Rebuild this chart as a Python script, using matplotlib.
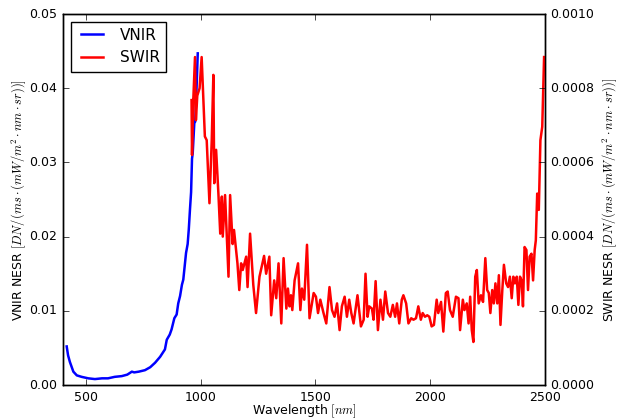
import numpy as np
import matplotlib
matplotlib.use("Agg")
import matplotlib.pyplot as plt
from matplotlib.ticker import FormatStrFormatter

# VNIR NESR (left axis)
vnir_wl = [416, 422, 430, 445, 460, 481, 510, 539, 570, 596, 625, 656, 680, 700,
           710, 730, 757, 780, 801, 823, 844, 852, 865, 873, 885, 895, 902, 910,
           918, 924, 930, 936, 943, 948, 953, 958, 962, 965, 972, 976, 980, 987]
vnir_nesr = [0.0052, 0.0040, 0.0031, 0.0018, 0.0013, 0.0011, 0.0009, 0.0008,
             0.0009, 0.0009, 0.0011, 0.0012, 0.0014, 0.0018, 0.0017, 0.0018,
             0.0020, 0.0024, 0.0030, 0.0038, 0.0048, 0.0061, 0.0068, 0.0075,
             0.0090, 0.0095, 0.0110, 0.0120, 0.0135, 0.0142, 0.0160, 0.0178,
             0.0190, 0.0210, 0.0236, 0.0260, 0.0305, 0.0312, 0.0353, 0.0355,
             0.0384, 0.0447]

# SWIR NESR (right axis, in units of 1e-4)
swir_wl = [960, 962, 967, 975, 979, 985, 995, 1004, 1012, 1018, 1026, 1038, 1048,
           1055, 1059, 1067, 1077, 1085, 1092, 1096, 1106, 1121, 1128, 1139, 1145,
           1160, 1168, 1176, 1183, 1198, 1204, 1215, 1229, 1241, 1256, 1276, 1285,
           1299, 1307, 1320, 1329, 1339, 1351, 1361, 1373, 1380, 1387, 1393, 1399,
           1409, 1424, 1434, 1441, 1451, 1463, 1474, 1492, 1502, 1511, 1521, 1535,
           1547, 1561, 1572, 1583, 1594, 1605, 1615, 1627, 1637, 1647, 1656, 1666,
           1683, 1698, 1710, 1718, 1727, 1734, 1746, 1753, 1762, 1772, 1783, 1794,
           1804, 1816, 1826, 1837, 1847, 1855, 1865, 1876, 1883, 1895, 1905, 1917,
           1927, 1938, 1948, 1959, 1967, 1977, 1987, 1996, 2006, 2016, 2028, 2035,
           2047, 2057, 2068, 2076, 2086, 2098, 2112, 2123, 2130, 2142, 2149, 2159,
           2167, 2174, 2181, 2188, 2196, 2203, 2211, 2221, 2230, 2240, 2248, 2255,
           2262, 2270, 2277, 2284, 2292, 2299, 2306, 2314, 2321, 2331, 2339, 2347,
           2355, 2362, 2369, 2377, 2384, 2391, 2398, 2404, 2411, 2419, 2426, 2433,
           2441, 2448, 2455, 2460, 2466, 2473, 2480, 2488, 2492, 2496]
swir_nesr_e4 = [7.68, 6.2, 7.6, 8.84, 7.14, 7.8, 8.0, 8.84, 7.6, 6.7, 6.6, 4.9, 6.6,
                8.36, 5.44, 6.34, 5.16, 4.08, 5.08, 4.0, 5.12, 2.92, 5.12, 3.8, 4.18,
                3.28, 2.56, 3.28, 3.1, 3.46, 2.64, 4.08, 2.7, 1.94, 2.92, 3.48, 3.0,
                3.46, 1.88, 2.82, 2.34, 3.28, 1.66, 3.42, 2.06, 2.6, 2.12, 2.42, 2.02,
                2.82, 3.28, 2.02, 2.6, 2.3, 3.78, 1.8, 2.48, 2.38, 1.94, 2.3, 1.94,
                1.66, 2.64, 2.02, 1.84, 2.2, 1.48, 2.12, 2.38, 1.84, 2.3, 1.94, 1.66,
                2.42, 1.58, 1.76, 3.0, 1.84, 2.12, 2.06, 1.76, 2.8, 1.48, 2.3, 1.76,
                2.52, 1.94, 1.84, 2.16, 1.84, 2.2, 1.66, 2.3, 2.42, 2.2, 1.66, 1.8,
                1.76, 1.8, 2.12, 1.76, 1.94, 1.84, 1.88, 1.84, 1.58, 1.62, 2.3, 1.94,
                2.24, 1.44, 2.48, 2.52, 2.02, 1.84, 2.38, 2.34, 1.48, 2.3, 2.02, 2.2,
                1.66, 2.38, 1.48, 1.16, 2.92, 3.1, 2.2, 2.42, 2.24, 3.42, 2.56, 2.48,
                1.94, 2.56, 2.2, 2.74, 2.2, 2.96, 1.62, 2.56, 3.24, 2.74, 2.64, 2.92,
                2.34, 2.92, 2.74, 2.92, 2.16, 2.92, 2.82, 2.12, 3.72, 3.64, 2.56, 3.46,
                3.54, 2.82, 3.64, 3.9, 5.16, 4.72, 6.6, 6.96, 7.86, 8.84]
swir_nesr = np.array(swir_nesr_e4) * 1e-4

plt.style.use('classic')
plt.rcParams['font.size'] = 9

fig = plt.figure(figsize=(6.24, 4.2), dpi=100, facecolor='white')
ax = fig.add_axes([0.101, 0.0833, 0.7724, 0.8833])
ax2 = ax.twinx()

l1, = ax.plot(vnir_wl, vnir_nesr, color='blue', lw=1.8, label='VNIR')
l2, = ax2.plot(swir_wl, swir_nesr, color='red', lw=1.8, label='SWIR')

ax.set_xlim(400, 2500)
ax.set_ylim(0, 0.05)
ax2.set_ylim(0, 0.001)
ax.set_xticks([500, 1000, 1500, 2000, 2500])
ax.yaxis.set_major_formatter(FormatStrFormatter('%.2f'))
ax2.yaxis.set_major_formatter(FormatStrFormatter('%.4f'))

ax.set_xlabel(r'Wavelength $[nm]$', labelpad=-1)
ax.set_ylabel(r'VNIR NESR $[DN/(ms\cdot(mW/m^2\cdot nm\cdot sr))]$', labelpad=1)
ax2.set_ylabel(r'SWIR NESR $[DN/(ms\cdot(mW/m^2\cdot nm\cdot sr))]$', labelpad=4)

ax.legend([l1, l2], ['VNIR', 'SWIR'], loc='upper left', fontsize=11)

fig.savefig('out.png', dpi=100, facecolor='white')
